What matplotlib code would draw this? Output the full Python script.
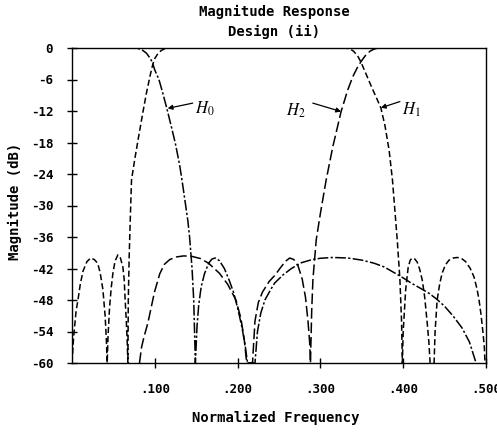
import matplotlib
matplotlib.use("Agg")
import matplotlib.pyplot as plt

plt.rcParams['mathtext.fontset'] = 'stix'

# H0: lowpass (passband, edge, stopband lobes)
h0_x = [0.0, 0.07, 0.08, 0.085, 0.09, 0.095, 0.0976, 0.1, 0.105, 0.11, 0.115,
        0.12, 0.125, 0.13, 0.1325, 0.135, 0.14, 0.142, 0.145, 0.147, 0.149,
        0.151, 0.153, 0.156, 0.16, 0.165, 0.169, 0.173, 0.178, 0.184, 0.19,
        0.195, 0.2, 0.205, 0.209, 0.212,
        0.221, 0.224, 0.228, 0.233, 0.24, 0.2446, 0.255, 0.265, 0.277, 0.29,
        0.3, 0.315, 0.333, 0.35, 0.365, 0.377, 0.387, 0.4, 0.41, 0.42, 0.431,
        0.441, 0.45, 0.46, 0.471, 0.48, 0.488]
h0_db = [0, 0, -0.1, -0.4, -1.0, -2.1, -3.0, -4.2, -6.0, -8.8, -11.8,
         -15.0, -18.3, -22.3, -24.8, -27.5, -33, -36, -42, -48, -60,
         -53, -49, -45.5, -43, -41, -40.2, -40, -40.5, -42, -44.3,
         -46.5, -49.5, -53, -56.5, -60,
         -60, -54, -50.5, -48, -46, -44.8, -43.2, -42, -40.9, -40.3,
         -40.05, -39.9, -40, -40.4, -41, -41.7, -42.6, -43.8, -44.8, -45.7, -46.7,
         -47.9, -49.2, -51, -53.3, -56, -60]

# H1: bandpass
h1_x = [0.0, 0.002, 0.005, 0.0072, 0.01, 0.0133, 0.018, 0.0225, 0.027, 0.031,
        0.034, 0.0373, 0.04, 0.0415, 0.0425,
        0.0435, 0.0454, 0.0475, 0.0494, 0.052, 0.0554, 0.0585, 0.0614, 0.063,
        0.0642, 0.0656, 0.0666, 0.0675,
        0.068, 0.069, 0.0705, 0.0719, 0.076, 0.08, 0.085, 0.09, 0.095, 0.0976,
        0.1, 0.104, 0.108, 0.112, 0.118,
        0.331, 0.336, 0.34, 0.345, 0.349, 0.355, 0.362, 0.368, 0.373, 0.378,
        0.383, 0.387, 0.39, 0.393, 0.396, 0.398, 0.399,
        0.4, 0.4015, 0.403, 0.406, 0.4085, 0.411, 0.414, 0.417, 0.42, 0.423,
        0.426, 0.429, 0.431, 0.4325,
        0.4373, 0.4385, 0.441, 0.444, 0.447, 0.451, 0.4554, 0.4605, 0.4655,
        0.4705, 0.4755, 0.481, 0.4855, 0.489, 0.4916, 0.494, 0.4964, 0.498, 0.4988]
h1_db = [-60, -55, -50, -48, -45, -42.5, -40.7, -40, -40.3, -41,
         -42.8, -46, -51, -55.6, -60,
         -55, -49.3, -45.5, -42.9, -40.6, -39.4, -40, -41.7, -44,
         -48, -52, -55.6, -60,
         -48, -40, -32, -25.1, -21, -17.3, -12.8, -8.5, -4.8, -3.1,
         -2.0, -1.0, -0.45, -0.15, 0,
         0, -0.2, -0.6, -1.5, -2.7, -4.9, -7.5, -9.6, -11.4, -14.8,
         -19.5, -25.1, -31, -37, -44, -52, -60,
         -54, -50, -46, -41.8, -40.4, -40, -40.2, -40.8, -42.2, -44.2,
         -47.5, -52.4, -56, -60,
         -60, -54, -48, -45, -42.9, -41.3, -40.4, -40, -39.9,
         -40.1, -40.7, -42, -43.6, -45.8, -48, -50.8, -54.3, -57, -60]

# H2: highpass
h2_x = [0.0815, 0.084, 0.087, 0.0916, 0.0996, 0.106, 0.1116, 0.118, 0.126,
        0.135, 0.145, 0.155, 0.165, 0.178, 0.188, 0.198, 0.204, 0.208, 0.211,
        0.218, 0.221, 0.225, 0.23, 0.238, 0.245, 0.252, 0.258, 0.263, 0.268,
        0.273, 0.278, 0.282, 0.285, 0.287, 0.288,
        0.2895, 0.291, 0.295, 0.3, 0.307, 0.315, 0.325, 0.333, 0.339, 0.345,
        0.349, 0.355, 0.36, 0.365, 0.37, 0.5]
h2_db = [-60, -57, -55, -52.4, -46.5, -43, -41.2, -40.3, -39.8,
         -39.6, -39.7, -40.1, -41, -42.9, -45, -48, -51.5, -55.5, -60,
         -60, -52, -48.5, -46.5, -44.5, -43.3, -41.8, -40.6, -40, -40.3,
         -41.5, -44, -47.5, -52, -56, -60,
         -50, -44, -36.5, -31.5, -25.1, -18.8, -12.1, -8, -5.5, -3.6,
         -2.6, -1.3, -0.6, -0.2, 0, 0]

x_ticks = [0.1, 0.2, 0.3, 0.4, 0.5]
x_tick_labels = ['.100', '.200', '.300', '.400', '.500']
y_ticks = [0, -6, -12, -18, -24, -30, -36, -42, -48, -54, -60]
y_tick_labels = ['0', '-6', '-12', '-18', '-24', '-30', '-36', '-42', '-48', '-54', '-60']

mono = dict(family='DejaVu Sans Mono', weight='bold')

fig = plt.figure(figsize=(4.97, 4.34), dpi=100)
ax = fig.add_axes([72 / 497, 1 - 363 / 434, (486 - 72) / 497, (363 - 48) / 434])

ax.plot(h0_x, h0_db, color='black', lw=1.1, linestyle=(0, (7, 1.5, 1.5, 1.5)))
ax.plot(h1_x, h1_db, color='black', lw=1.1, linestyle=(0, (4, 2)))
ax.plot(h2_x, h2_db, color='black', lw=1.1, linestyle=(0, (7, 2.5)))

ax.set_xlim(0, 0.5)
ax.set_ylim(-60, 0)
ax.set_xticks(x_ticks)
ax.set_xticklabels(x_tick_labels, fontsize=9, **mono)
ax.set_yticks(y_ticks)
ax.set_yticklabels(y_tick_labels, fontsize=9, **mono)
ax.tick_params(direction='inout', length=7, width=1, pad=10)
ax.tick_params(axis='x', pad=11)
for s in ax.spines.values():
    s.set_linewidth(1.0)

arrow = dict(arrowstyle='-|>', lw=0.9, color='black', mutation_scale=7,
             shrinkA=0, shrinkB=0)
ax.annotate('', xy=(0.1155, -11.5), xytext=(0.1458, -10.5), arrowprops=arrow)
ax.text(0.148, -12.4, '$H_0$', fontsize=12, va='baseline')
ax.annotate('', xy=(0.325, -12.1), xytext=(0.2908, -10.5), arrowprops=arrow)
ax.text(0.258, -12.8, '$H_2$', fontsize=12, va='baseline')
ax.annotate('', xy=(0.373, -11.4), xytext=(0.396, -10.2), arrowprops=arrow)
ax.text(0.398, -12.6, '$H_1$', fontsize=12, va='baseline')

fig.text(274 / 497, 1 - 12 / 434, 'Magnitude Response', ha='center', va='center',
         fontsize=10, **mono)
fig.text(274 / 497, 1 - 32 / 434, 'Design (ii)', ha='center', va='center',
         fontsize=10, **mono)
fig.text(276 / 497, 1 - 418 / 434, 'Normalized Frequency', ha='center', va='center',
         fontsize=10, **mono)
fig.text(15 / 497, 1 - 201 / 434, 'Magnitude (dB)', ha='center', va='center',
         rotation=90, fontsize=10, **mono)

fig.savefig('out.png', dpi=100)
